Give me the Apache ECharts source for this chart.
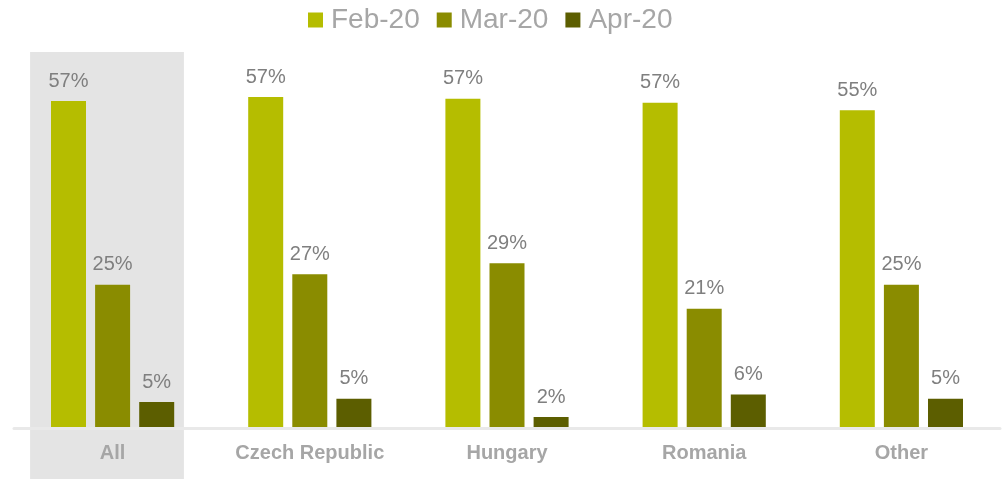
<!DOCTYPE html>
<html>
<head>
<meta charset="utf-8">
<script src="https://cdn.jsdelivr.net/npm/echarts@6/dist/echarts.min.js"></script>
<style>
  html, body { margin: 0; padding: 0; background: #fff; }
  #chart { width: 1002px; height: 479px; }
</style>
</head>
<body>
<div id="chart"></div>
<script>
const categories = ['All', 'Czech Republic', 'Hungary', 'Romania', 'Other']
const feb20 = [56.8, 57.49, 57.2, 56.5, 55.2]
const mar20 = [24.9, 26.7, 28.6, 20.7, 24.9]
const apr20 = [4.5, 5.1, 1.9, 5.8, 5.1]
const highlighted = ['All']

const chart = echarts.init(document.getElementById('chart'))

const labelStyle = {
  show: true,
  position: 'top',
  distance: 10,
  color: '#7f7f7f',
  fontSize: 20,
  fontFamily: 'Liberation Sans, Arial, sans-serif',
  formatter: p => Math.round(p.value) + '%'
}

const barSeries = (name, data, color) => ({
  name,
  type: 'bar',
  data,
  barWidth: 35,
  barGap: '26%',
  itemStyle: { color },
  label: labelStyle,
  z: 2
})

chart.setOption({
  animation: false,
  textStyle: { fontFamily: 'Liberation Sans, Arial, sans-serif' },
  legend: {
    data: ['Feb-20', 'Mar-20', 'Apr-20'],
    left: 303,
    top: 1,
    icon: 'rect',
    itemWidth: 15,
    itemHeight: 15,
    itemGap: 17,
    textStyle: {
      fontSize: 28,
      color: '#a6a6a6',
      padding: [0, 0, 0, 3]
    }
  },
  grid: { left: 14, right: 2, top: 25, bottom: 51 },
  xAxis: {
    type: 'category',
    data: categories,
    z: 3,
    axisLine: { lineStyle: { color: '#e9e9e9', width: 3 } },
    axisTick: { show: false },
    axisLabel: {
      margin: 15,
      fontSize: 20,
      fontWeight: 'bold',
      color: '#a6a6a6'
    }
  },
  yAxis: {
    type: 'value',
    min: 0,
    max: 70,
    show: false,
    splitLine: { show: false }
  },
  series: [
    {
      type: 'custom',
      silent: true,
      z: 0,
      clip: false,
      data: highlighted.map(c => [c]),
      renderItem: (params, api) => {
        const center = api.coord([api.value(0), 0])
        const bandW = api.size([1, 0])[0]
        const w = bandW * 0.78
        const top = api.coord([0, 65.3])[1]
        return {
          type: 'rect',
          shape: { x: center[0] - 5.6 - w / 2, y: top, width: w, height: api.getHeight() - top },
          style: { fill: '#e4e4e4' }
        }
      }
    },
    barSeries('Feb-20', feb20, '#b5bd00'),
    barSeries('Mar-20', mar20, '#8a8c00'),
    barSeries('Apr-20', apr20, '#5c5e00')
  ]
})

window.addEventListener('resize', () => chart.resize())
</script>
</body>
</html>
